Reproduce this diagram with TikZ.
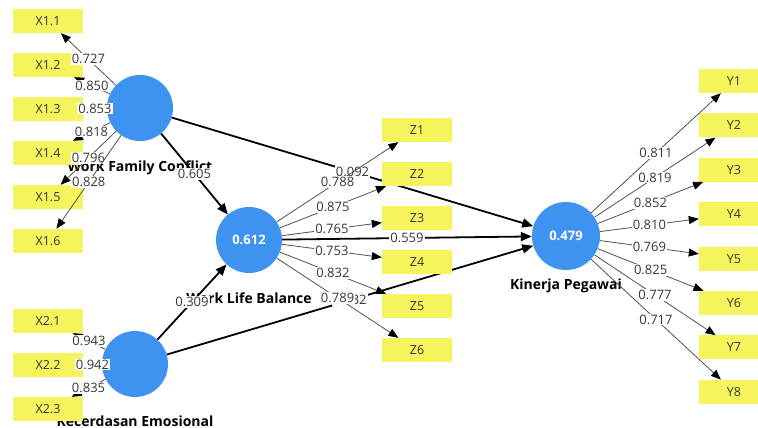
\documentclass[tikz,border=0pt]{standalone}
\usepackage{fontspec}
\setmainfont{Open Sans}
\usetikzlibrary{arrows.meta,positioning}

\definecolor{lvblue}{RGB}{62,146,240}
\definecolor{indyellow}{RGB}{246,244,92}
\definecolor{numgray}{RGB}{55,55,55}
\definecolor{linegray}{RGB}{80,80,80}

\tikzset{
	lv/.style={circle,fill=lvblue,minimum size=66pt,inner sep=0pt,text=white,font=\bfseries\fontsize{13}{13}\selectfont},
	ind/.style={rectangle,fill=indyellow,minimum width=70pt,minimum height=24pt,inner sep=0pt,text=numgray,font=\fontsize{12.5}{13}\selectfont},
	lvname/.style={inner sep=0pt,font=\bfseries\fontsize{14}{14}\selectfont},
	coef/.style={fill=white,inner sep=1pt,text=numgray,font=\fontsize{13}{13}\selectfont},
	load/.style={draw=linegray,line width=0.8pt,-{Triangle[length=10pt,width=8pt,black]}},
	strpath/.style={draw=black,line width=1.8pt,-{Triangle[length=11pt,width=9pt]}}
}

\begin{document}
\begin{tikzpicture}[x=1pt,y=-1pt,on grid,node distance=44pt]
		\useasboundingbox (0,0) rectangle (758,428);
		\clip (0,0) rectangle (758,428);
		% latent variables
		\node[lv,label={[lvname,label distance=19pt]below:Work Family Conflict}](wfc) at (140,108) {};
		\node[lv,label={[lvname,label distance=19pt]below:Work Life Balance}](wlb) at (249,240) {0.612};
		\node[lv,label={[lvname,label distance=18pt]below:Kecerdasan Emosional}](ke) at (135,364) {};
		\node[lv,minimum size=68pt,label={[lvname,label distance=8pt]below:Kinerja Pegawai}](kp) at (566,236) {0.479};
		% inner model
		\path[strpath]
		(wfc) edge node[coef] {0.605} (wlb)
		(wfc) edge node[coef] {0.092} (kp)
		(ke) edge node[coef] {0.309} (wlb)
		(ke) edge node[coef] {0.132} (kp)
		(wlb) edge node[coef] {0.559} (kp);
		% indicators
		\node[ind](x11) at (48,21) {X1.1};
		\node[ind](x12)[below=of x11] {X1.2};
		\node[ind](x13)[below=of x12] {X1.3};
		\node[ind](x14)[below=of x13] {X1.4};
		\node[ind](x15)[below=of x14] {X1.5};
		\node[ind](x16)[below=of x15] {X1.6};
		\node[ind](x21) at (48,321) {X2.1};
		\node[ind](x22)[below=of x21] {X2.2};
		\node[ind](x23)[below=of x22] {X2.3};
		\node[ind](z1) at (417,130) {Z1};
		\node[ind](z2)[below=of z1] {Z2};
		\node[ind](z3)[below=of z2] {Z3};
		\node[ind](z4)[below=of z3] {Z4};
		\node[ind](z5)[below=of z4] {Z5};
		\node[ind](z6)[below=of z5] {Z6};
		\begin{scope}[node distance=44.4pt]
		\node[ind](y1) at (734,81) {Y1};
		\node[ind](y2)[below=of y1] {Y2};
		\node[ind](y3)[below=of y2] {Y3};
		\node[ind](y4)[below=of y3] {Y4};
		\node[ind](y5)[below=of y4] {Y5};
		\node[ind](y6)[below=of y5] {Y6};
		\node[ind](y7)[below=of y6] {Y7};
		\node[ind](y8)[below=of y7] {Y8};
		\end{scope}
		% outer model
		\path[load]
		(wfc) edge node[coef] {0.727} (x11)
		(wfc) edge node[coef] {0.850} (x12)
		(wfc) edge node[coef] {0.853} (x13)
		(wfc) edge node[coef] {0.818} (x14)
		(wfc) edge node[coef] {0.796} (x15)
		(wfc) edge node[coef] {0.828} (x16)
		(ke) edge node[coef] {0.943} (x21)
		(ke) edge node[coef] {0.942} (x22)
		(ke) edge node[coef] {0.835} (x23)
		(wlb) edge node[coef] {0.788} (z1)
		(wlb) edge node[coef] {0.875} (z2)
		(wlb) edge node[coef] {0.765} (z3)
		(wlb) edge node[coef] {0.753} (z4)
		(wlb) edge node[coef] {0.832} (z5)
		(wlb) edge node[coef] {0.789} (z6)
		(kp) edge node[coef] {0.811} (y1)
		(kp) edge node[coef] {0.819} (y2)
		(kp) edge node[coef] {0.852} (y3)
		(kp) edge node[coef] {0.810} (y4)
		(kp) edge node[coef] {0.769} (y5)
		(kp) edge node[coef] {0.825} (y6)
		(kp) edge node[coef] {0.777} (y7)
		(kp) edge node[coef] {0.717} (y8);
\end{tikzpicture}
\end{document}
